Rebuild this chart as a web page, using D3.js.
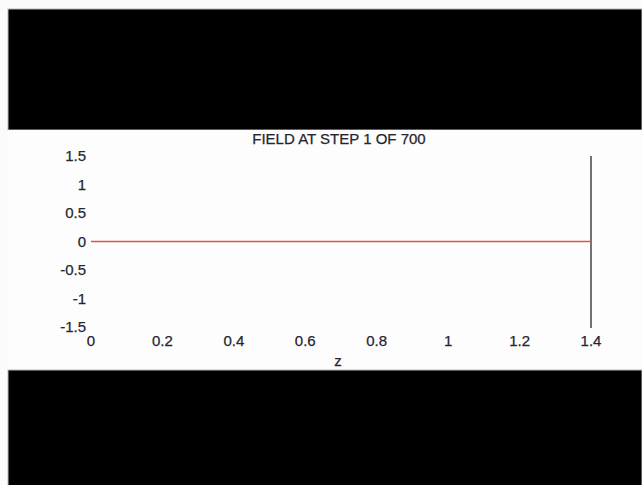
<!DOCTYPE html>
<html>
<head>
<meta charset="utf-8">
<script src="https://cdn.jsdelivr.net/npm/d3@7"></script>
<style>
  html, body { margin: 0; padding: 0; background: #fbfbfb; }
  svg { display: block; }
  text { font-family: "Liberation Sans", Arial, sans-serif; fill: #26262e; stroke: #26262e; stroke-width: 0.25px; }
</style>
</head>
<body>
<svg id="chart" width="642" height="485"></svg>
<script>
// Field snapshot along z at the first time step
const title = "FIELD AT STEP 1 OF 700";
const zValues = [0, 0.1, 0.2, 0.3, 0.4, 0.5, 0.6, 0.7, 0.8, 0.9, 1.0, 1.1, 1.2, 1.3, 1.4];
const fieldValues = [0, 0, 0, 0, 0, 0, 0, 0, 0, 0, 0, 0, 0, 0, 0];
// Boundary marker at the end of the domain
const boundaryZ = [1.4];
const xTicks = [0, 0.2, 0.4, 0.6, 0.8, 1, 1.2, 1.4];
const yTicks = [1.5, 1, 0.5, 0, -0.5, -1, -1.5];

const svg = d3.select("#chart");
const fontSize = 15;
// plain hyphen for negatives
const fmt = d => String(d);

// black letterbox bands above and below the plot band
svg.append("rect").attr("x", 8).attr("y", 9).attr("width", 634).attr("height", 121)
  .attr("fill", "#000").attr("stroke", "#b8b8b8").attr("stroke-width", 1);
svg.append("rect").attr("x", 8).attr("y", 130).attr("width", 634).attr("height", 240)
  .attr("fill", "#fdfdfd");
svg.append("rect").attr("x", 8).attr("y", 370).attr("width", 634).attr("height", 116)
  .attr("fill", "#000").attr("stroke", "#b8b8b8").attr("stroke-width", 1);

const x = d3.scaleLinear().domain([0, 1.4]).range([91, 591]);
const y = d3.scaleLinear().domain([-1.5, 1.5]).range([327, 156]);

// y tick labels
svg.append("g").selectAll("text").data(yTicks).join("text")
  .attr("x", 86).attr("y", d => y(d)).attr("dy", "0.35em")
  .attr("text-anchor", "end").attr("font-size", fontSize)
  .text(fmt);

// x tick labels
svg.append("g").selectAll("text").data(xTicks).join("text")
  .attr("x", d => x(d)).attr("y", 341).attr("dy", "0.35em")
  .attr("text-anchor", "middle").attr("font-size", fontSize)
  .text(fmt);

// axis title and chart title
svg.append("text").attr("x", 338).attr("y", 361).attr("dy", "0.35em")
  .attr("text-anchor", "middle").attr("font-size", fontSize).text("z");
svg.append("text").attr("x", 339).attr("y", 139).attr("dy", "0.35em")
  .attr("text-anchor", "middle").attr("font-size", fontSize).text(title);

// boundary line
svg.append("g").selectAll("line").data(boundaryZ).join("line")
  .attr("x1", d => x(d)).attr("x2", d => x(d))
  .attr("y1", y(1.5)).attr("y2", y(-1.5) + 1)
  .attr("stroke", "#444").attr("stroke-width", 1.5);

// field line
const line = d3.line().x((d, i) => x(zValues[i])).y(d => y(d));
svg.append("path").datum(fieldValues)
  .attr("d", line).attr("fill", "none")
  .attr("stroke", "#d9574f").attr("stroke-width", 1.4);
</script>
</body>
</html>
